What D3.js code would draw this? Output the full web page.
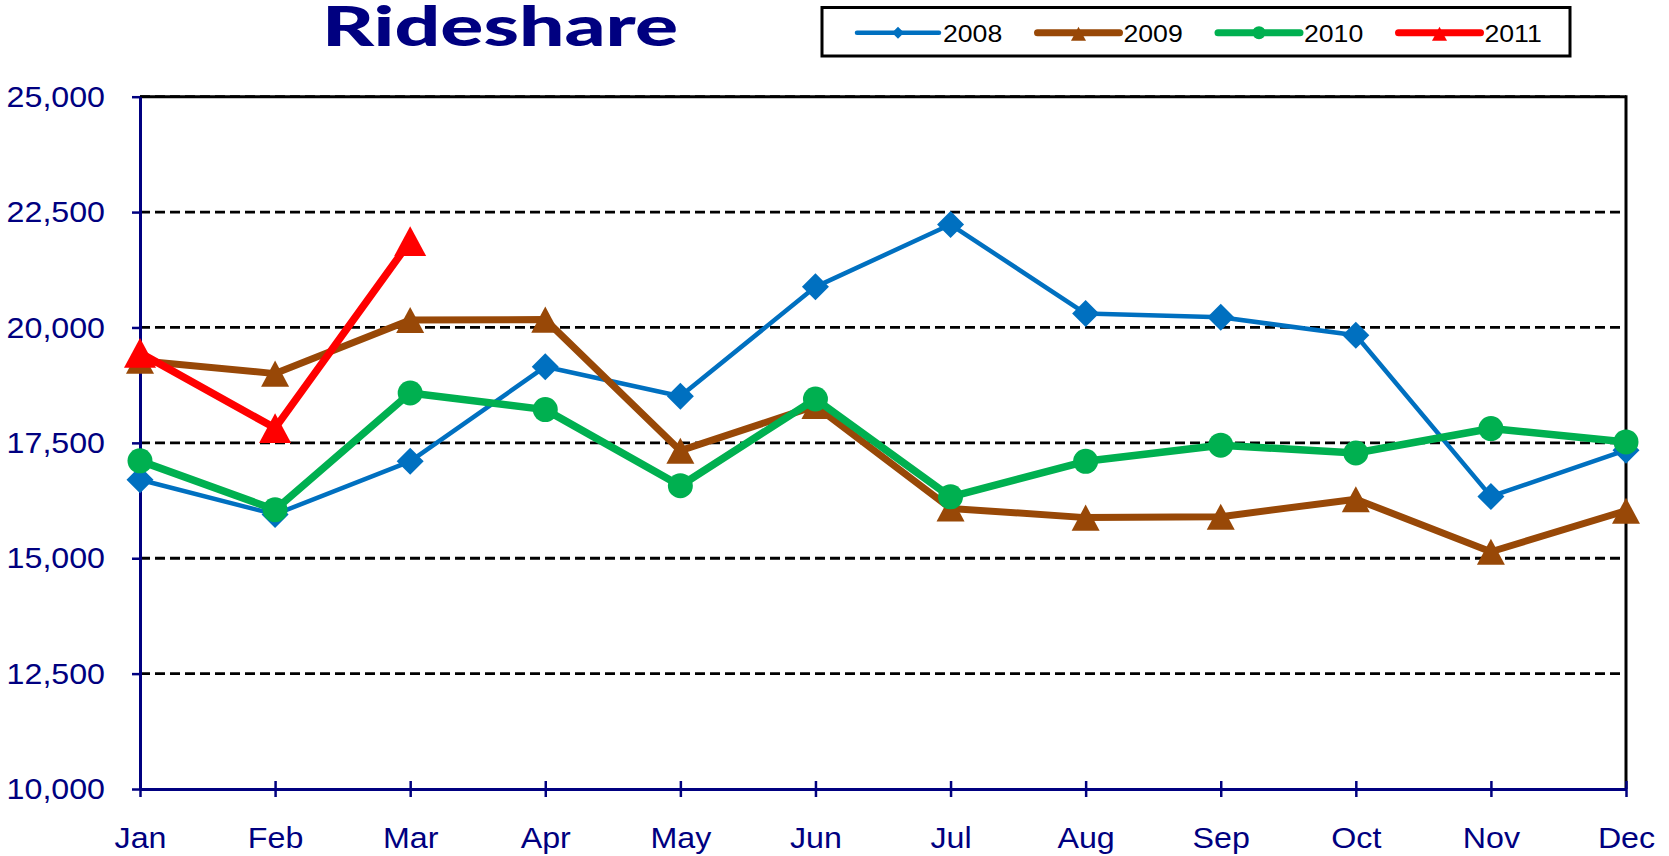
<!DOCTYPE html>
<html>
<head>
<meta charset="utf-8">
<title>Rideshare</title>
<script src="https://d3js.org/d3.v7.min.js"></script>
<style>
  body { margin: 0; background: #fff; }
  text { font-family: "Liberation Sans", Arial, sans-serif; }
</style>
</head>
<body>
<div id="chart"></div>
<script>
// data
var months = ["Jan", "Feb", "Mar", "Apr", "May", "Jun", "Jul", "Aug", "Sep", "Oct", "Nov", "Dec"];
var years = ["2008", "2009", "2010", "2011"];
var rides2008 = [16700, 15950, 17100, 19150, 18510, 20880, 22230, 20300, 20220, 19830, 16340, 17340];
var rides2009 = [19280, 19000, 20160, 20170, 17330, 18300, 16080, 15880, 15900, 16280, 15140, 16030];
var rides2010 = [17110, 16050, 18580, 18220, 16570, 18450, 16330, 17100, 17450, 17280, 17810, 17520];
var rides2011 = [19450, 17820, 21870];
var yTicks = [10000, 12500, 15000, 17500, 20000, 22500, 25000];

var seriesStyle = [
    { color: "#0070C0", width: 4.5, marker: "diamond", size: 13.5, legendSize: 6 },
    { color: "#984807", width: 7, marker: "triangle", size: 28, legendSize: 15 },
    { color: "#00B050", width: 7.5, marker: "circle", size: 12.5, legendSize: 6.5 },
    { color: "#FF0000", width: 7.5, marker: "triangle", size: 32, legendSize: 15 }
];
var allSeries = [rides2008, rides2009, rides2010, rides2011];

var W = 1669, H = 856;
var plotL = 140, plotR = 1626, plotT = 96.7, plotB = 789;
var stretch = 1.11; // the original text is a little wider than Arial
var navy = "#000080";

var svg = d3.select("#chart").append("svg")
    .attr("width", W)
    .attr("height", H);

var x = d3.scalePoint().domain(months).range([plotL, plotR]).padding(0);
var y = d3.scaleLinear().domain([10000, 25000]).range([plotB, plotT]);

// dashed gridlines
svg.append("g")
    .selectAll("line")
    .data(yTicks.filter(function (d) { return d > 10000; }))
    .enter().append("line")
    .attr("x1", plotL).attr("x2", plotR)
    .attr("y1", function (d) { return y(d); })
    .attr("y2", function (d) { return y(d); })
    .attr("stroke", "#000")
    .attr("stroke-width", 2.8)
    .attr("stroke-dasharray", "10,5");

// top and right border of the plot
svg.append("path")
    .attr("d", "M" + plotL + "," + plotT + "H" + plotR + "V" + plotB)
    .attr("fill", "none")
    .attr("stroke", "#000")
    .attr("stroke-width", 3);

// Y axis
var yAxis = svg.append("g")
    .attr("transform", "translate(" + plotL + ",0)")
    .call(d3.axisLeft(y).tickValues(yTicks).tickSize(8).tickSizeOuter(0).tickFormat(d3.format(",")));
yAxis.select(".domain").attr("stroke", navy).attr("stroke-width", 3);
yAxis.selectAll(".tick line").attr("stroke", navy).attr("stroke-width", 2.5);
yAxis.selectAll(".tick text")
    .attr("x", -35 / stretch)
    .attr("dy", "0.33em")
    .attr("transform", "scale(" + stretch + ",1)")
    .attr("fill", navy)
    .style("font-size", "29px");

// X axis
var xAxis = svg.append("g")
    .attr("transform", "translate(0," + plotB + ")")
    .call(d3.axisBottom(x).tickSize(8).tickSizeOuter(0));
xAxis.select(".domain").attr("stroke", navy).attr("stroke-width", 3);
xAxis.selectAll(".tick line").attr("y1", -8).attr("y2", 8).attr("stroke", navy).attr("stroke-width", 2.5);
xAxis.selectAll(".tick text")
    .attr("y", 59)
    .attr("dy", 0)
    .attr("transform", "scale(" + stretch + ",1)")
    .attr("x", 0)
    .attr("fill", navy)
    .style("font-size", "29px");

function markerPath(type, s) {
    if (type === "diamond") {
        return "M0," + (-s) + "L" + s + ",0L0," + s + "L" + (-s) + ",0Z";
    }
    if (type === "triangle") {
        var h = s * 0.93;
        return "M0," + (-h / 2) + "L" + (s / 2) + "," + (h / 2) + "L" + (-s / 2) + "," + (h / 2) + "Z";
    }
    return d3.symbol().type(d3.symbolCircle).size(Math.PI * s * s)();
}

// series, later years drawn on top
allSeries.forEach(function (values, i) {
    var st = seriesStyle[i];
    var pts = values.map(function (v, j) { return { m: months[j], v: v }; });
    var g = svg.append("g");
    g.append("path")
        .datum(pts)
        .attr("d", d3.line().x(function (d) { return x(d.m); }).y(function (d) { return y(d.v); }))
        .attr("fill", "none")
        .attr("stroke", st.color)
        .attr("stroke-width", st.width)
        .attr("stroke-linejoin", "round");
    g.selectAll(".mk")
        .data(pts)
        .enter().append("path")
        .attr("class", "mk")
        .attr("transform", function (d) { return "translate(" + x(d.m) + "," + y(d.v) + ")"; })
        .attr("d", markerPath(st.marker, st.size))
        .attr("fill", st.color);
});

// title
svg.append("text")
    .attr("x", 322)
    .attr("y", 46)
    .attr("textLength", 356)
    .attr("lengthAdjust", "spacingAndGlyphs")
    .attr("fill", navy)
    .style("font-family", "Lato, 'DejaVu Sans', sans-serif")
    .style("font-weight", "900")
    .style("font-size", "56px")
    .text("Rideshare");

// legend
var legend = svg.append("g");
legend.append("rect")
    .attr("x", 822).attr("y", 7.5)
    .attr("width", 748).attr("height", 48.5)
    .attr("fill", "#fff")
    .attr("stroke", "#000")
    .attr("stroke-width", 3);
var legendY = 32.7;
years.forEach(function (yr, i) {
    var st = seriesStyle[i];
    var x0 = 857 + i * 180.5;
    var item = legend.append("g");
    item.append("line")
        .attr("x1", x0).attr("x2", x0 + 82)
        .attr("y1", legendY).attr("y2", legendY)
        .attr("stroke", st.color)
        .attr("stroke-width", i === 0 ? 4.5 : 7)
        .attr("stroke-linecap", "round");
    item.append("path")
        .attr("transform", "translate(" + (x0 + 41) + "," + (legendY + (st.marker === "triangle" ? 1 : 0)) + ")")
        .attr("d", markerPath(st.marker, st.legendSize))
        .attr("fill", st.color);
    item.append("text")
        .attr("transform", "translate(" + (x0 + 86) + "," + 41.7 + ") scale(" + stretch + ",1)")
        .attr("fill", "#000")
        .style("font-size", "24px")
        .text(yr);
});
</script>
</body>
</html>
